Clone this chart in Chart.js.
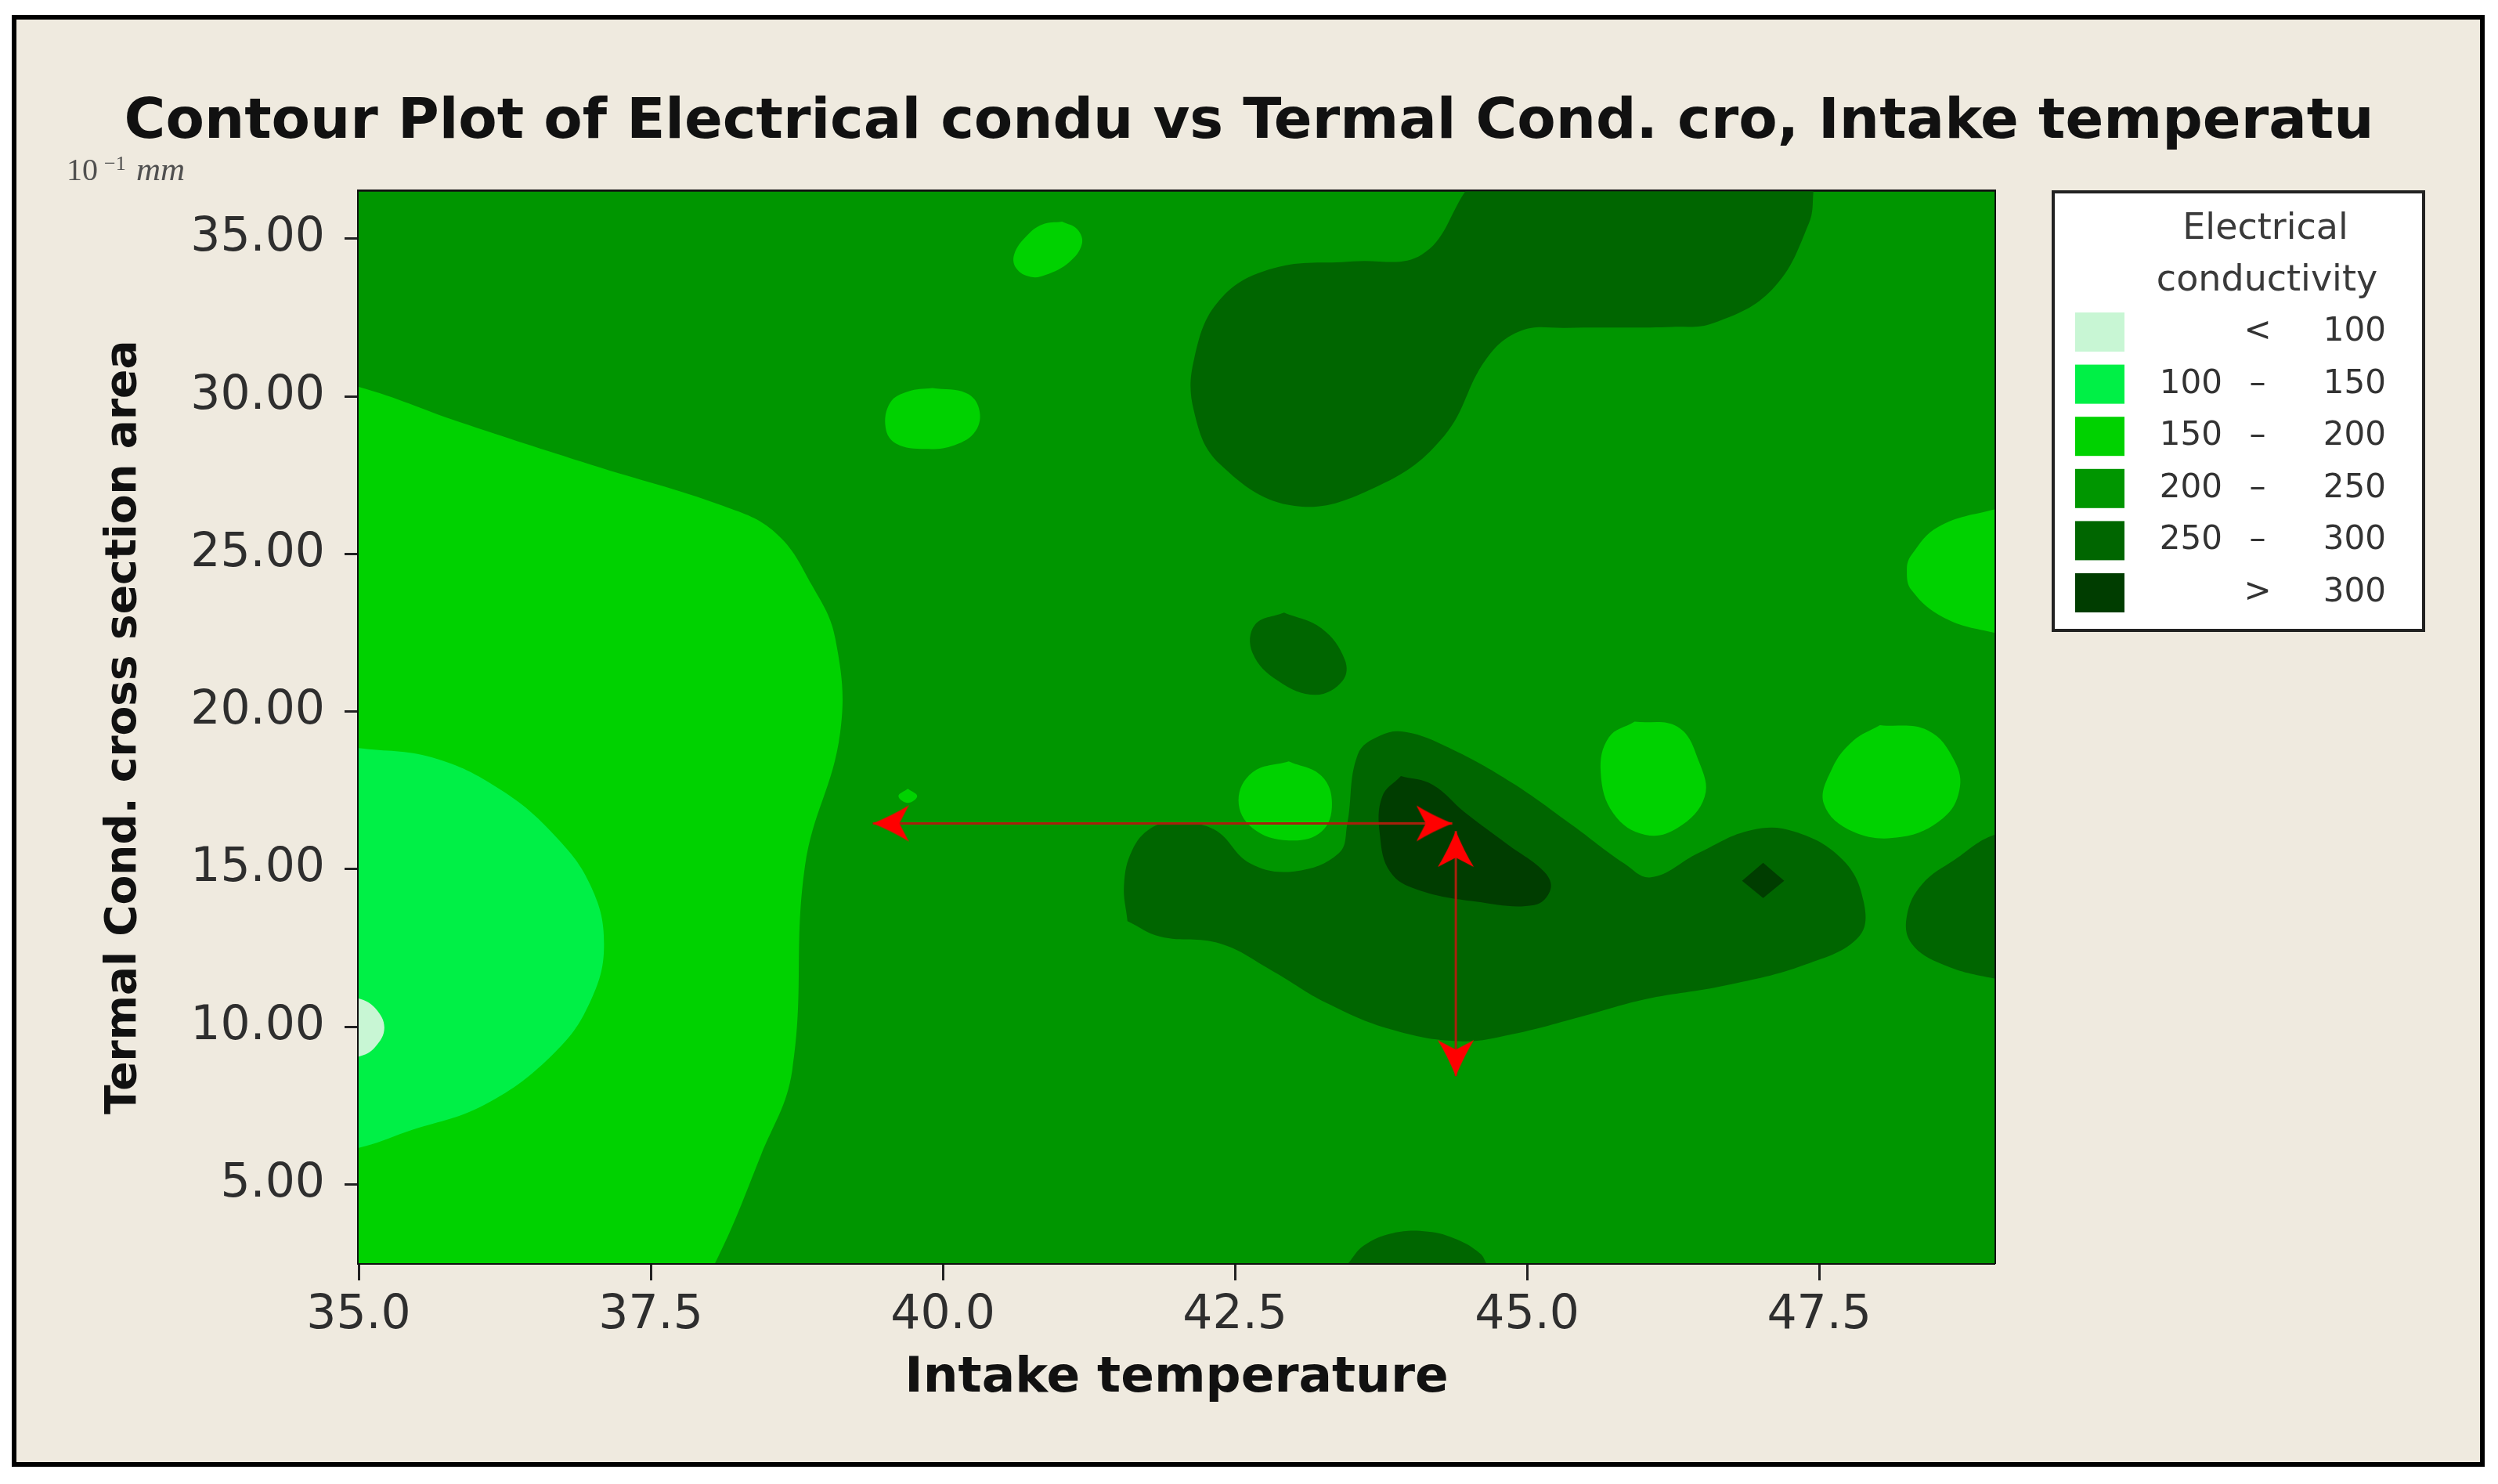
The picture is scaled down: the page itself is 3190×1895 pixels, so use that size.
<!DOCTYPE html>
<html>
<head>
<meta charset="utf-8">
<script src="https://cdn.jsdelivr.net/npm/chart.js@4.4.1/dist/chart.umd.min.js"></script>
<style>
html,body{margin:0;padding:0;background:#ffffff;}
#wrap{position:relative;width:3190px;height:1895px;}
</style>
</head>
<body>
<div id="wrap"><canvas id="c"></canvas></div>
<script>
// ---------------- text ----------------
const chartTitle = 'Contour Plot of Electrical condu vs Termal Cond. cro, Intake temperatu';
const xTitle = 'Intake temperature';
const yTitle = 'Termal Cond. cross section area';
const unitParts = ['10', '\u22121', 'mm'];
const legendTitle = ['Electrical', 'conductivity'];

// ---------------- axes ----------------
const xRange = [35, 49];
const yRange = [2.5, 36.5];
const xTickValues = [35, 37.5, 40, 42.5, 45, 47.5];
const xTickLabels = ['35.0', '37.5', '40.0', '42.5', '45.0', '47.5'];
const yTickValues = [5, 10, 15, 20, 25, 30, 35];
const yTickLabels = ['5.00', '10.00', '15.00', '20.00', '25.00', '30.00', '35.00'];

// ---------------- contour bands ----------------
const bandLow  = ['', '100', '150', '200', '250', ''];
const bandSign = ['<', '\u2013', '\u2013', '\u2013', '\u2013', '>'];
const bandHigh = ['100', '150', '200', '250', '300', '300'];
const bandColors = ['#c8f6d4', '#00f046', '#00d200', '#009600', '#006600', '#003d00'];

// ---------------- contour regions: [Intake temperature, cross section] boundary vertices ----------------
const domainBase = [[35, 2.5], [49, 2.5], [49, 36.5], [35, 36.5]];                       // 200-250
const regionLeft150 = [[34.5, 30.6], [35, 30.3], [35.86, 29.19], [36.99, 27.83], [38.12, 26.52], [38.57, 25.66],
  [38.88, 24.0], [39.08, 22.3], [39.12, 19.3], [38.82, 15.1], [38.71, 8.6], [38.44, 5.9], [38.05, 2.5],
  [37.85, 1.5], [34.5, 1.5]];
const regionLeft100 = [[34.5, 19.1], [35, 18.84], [35.63, 18.54], [36.21, 17.53], [36.68, 16.06], [36.99, 14.44],
  [37.10, 12.63], [36.99, 10.86], [36.68, 9.19], [36.08, 7.53], [35.41, 6.67], [35, 6.16], [34.5, 5.9]];
const regionLeftLow = [[34.6, 11.2], [35, 10.9], [35.14, 10.6], [35.22, 9.97], [35.14, 9.35], [35, 9.05], [34.6, 8.8]];
const blobTop150 = [[41.02, 35.54], [41.15, 35.3], [41.19, 34.83], [41.08, 34.25], [40.88, 33.85], [40.75, 33.79],
  [40.63, 34.05], [40.61, 34.5], [40.72, 35.1], [40.85, 35.45], [41.02, 35.54]];
const blobUpper150 = [[39.91, 30.26], [40.2, 30.1], [40.31, 29.6], [40.28, 28.9], [40.1, 28.45], [39.85, 28.33],
  [39.6, 28.5], [39.51, 29.0], [39.55, 29.8], [39.7, 30.15], [39.91, 30.26]];
const blobEdge150 = [[49.5, 26.8], [49, 26.41], [48.52, 25.86], [48.29, 24.97], [48.25, 24.5], [48.29, 23.85],
  [48.57, 22.97], [49, 22.5], [49.5, 22.2]];
const blobMid150 = [[42.96, 18.42], [43.24, 17.96], [43.33, 17.07], [43.24, 16.19], [42.96, 15.91], [42.65, 16.30],
  [42.53, 17.18], [42.65, 18.07], [42.96, 18.42]];
const blobRightA150 = [[45.92, 19.68], [46.29, 19.51], [46.47, 18.42], [46.52, 17.30], [46.29, 16.31], [46.01, 16.09],
  [45.74, 16.76], [45.63, 18.07], [45.70, 19.18], [45.92, 19.68]];
const blobRightB150 = [[48.02, 19.57], [48.43, 19.40], [48.66, 18.42], [48.70, 17.51], [48.56, 16.62], [48.20, 16.02],
  [47.79, 16.19], [47.54, 17.07], [47.61, 18.19], [47.79, 19.07], [48.02, 19.57]];
const speck150 = [[39.70, 17.55], [39.78, 17.32], [39.70, 17.1], [39.62, 17.32], [39.70, 17.55]];
const darkTop250 = [[44.6, 37.3], [44.47, 36.5], [44.10, 34.5], [43.51, 34.28], [42.83, 34.06], [42.37, 33.06],
  [42.15, 31.18], [42.15, 29.51], [42.37, 27.85], [43.01, 26.52], [43.74, 27.18], [44.29, 28.74], [44.65, 31.18],
  [44.95, 32.08], [45.33, 32.17], [46.24, 32.2], [46.6, 32.33], [47.1, 33.4], [47.41, 35.47], [47.45, 36.5],
  [47.45, 37.3]];
const darkSpot250 = [[42.92, 23.14], [43.24, 22.64], [43.44, 21.64], [43.42, 20.97], [43.19, 20.53], [42.87, 20.97],
  [42.65, 21.86], [42.67, 22.75], [42.92, 23.14]];
const darkBand250 = [[41.58, 13.35], [41.55, 14.5], [41.62, 15.6], [41.78, 16.3], [41.97, 16.46], [42.32, 16.26],
  [42.63, 15.18], [43.01, 14.93], [43.39, 15.51], [43.46, 16.41], [43.55, 18.63], [43.74, 19.23], [43.96, 19.35],
  [44.33, 18.85], [44.87, 17.74], [45.38, 16.41], [45.83, 15.18], [46.06, 14.74], [46.47, 15.52], [46.92, 16.24],
  [47.29, 16.19], [47.70, 15.30], [47.88, 13.97], [47.84, 12.86], [47.38, 11.97], [46.70, 11.31], [46.01, 10.87],
  [45.56, 10.42], [44.87, 9.76], [44.42, 9.54], [43.83, 9.92], [43.28, 10.76], [42.83, 11.75], [42.37, 12.64],
  [41.86, 12.86], [41.58, 13.35]];
const darkEdge250 = [[49.5, 16.4], [49, 16.09], [48.66, 15.30], [48.38, 14.52], [48.25, 13.52], [48.29, 12.64],
  [48.56, 11.97], [49, 11.53], [49.5, 11.3]];
const darkBottom250 = [[43.3, 1.8], [43.47, 2.5], [43.6, 3.05], [43.85, 3.45], [44.15, 3.5], [44.4, 3.25],
  [44.6, 2.8], [44.65, 2.5], [44.75, 1.8]];
const core300 = [[43.92, 17.95], [44.19, 17.68], [44.47, 16.79], [44.83, 15.79], [45.15, 14.90], [45.20, 14.35],
  [45.06, 13.86], [44.56, 13.97], [44.06, 14.35], [43.83, 14.90], [43.74, 16.09], [43.76, 17.30], [43.92, 17.95]];
const dot300 = [[47.02, 15.2], [47.2, 14.63], [47.02, 14.08], [46.84, 14.63]];

// ---------------- annotation arrows ----------------
const arrowHorizontal = [[39.40, 16.45], [44.36, 16.45]];
const arrowVertical = [[44.39, 16.21], [44.39, 8.43]];

// layers, bottom to top: [vertices, band, tension]
const contourLayers = [
  [domainBase, 3, 0],
  [regionLeft150, 2, 0.4],
  [regionLeft100, 1, 0.4],
  [regionLeftLow, 0, 0.4],
  [blobTop150, 2, 0.4],
  [blobUpper150, 2, 0.4],
  [blobEdge150, 2, 0.4],
  [blobMid150, 2, 0.4],
  [blobRightA150, 2, 0.4],
  [blobRightB150, 2, 0.4],
  [speck150, 2, 0.4],
  [darkTop250, 4, 0.4],
  [darkSpot250, 4, 0.4],
  [darkBand250, 4, 0.4],
  [darkEdge250, 4, 0.4],
  [darkBottom250, 4, 0.4],
  [core300, 5, 0.4],
  [dot300, 5, 0]
];

function makeArrowHead(len, half, notch, color) {
  const c = document.createElement('canvas');
  c.width = len * 2; c.height = len * 2;
  const g = c.getContext('2d');
  g.fillStyle = color;
  g.beginPath();
  g.moveTo(len, len);
  g.quadraticCurveTo(len * 0.45, len - half * 0.45, 0, len - half);
  g.lineTo(notch, len);
  g.lineTo(0, len + half);
  g.quadraticCurveTo(len * 0.45, len + half * 0.45, len, len);
  g.closePath();
  g.fill();
  return c;
}
const arrowHead = makeArrowHead(46, 23, 12, '#ff0000');

const toXY = pts => pts.map(p => ({x: p[0], y: p[1]}));

const datasets = contourLayers.map((L, i) => ({
  type: 'line',
  label: 'band' + L[1],
  data: toXY(L[0]),
  xAxisID: 'x', yAxisID: 'y',
  backgroundColor: bandColors[L[1]],
  borderWidth: 0,
  pointRadius: 0,
  fill: 'shape',
  tension: L[2],
  order: 100 - i
}));
[[arrowHorizontal, [180, 0]], [arrowVertical, [-90, 90]]].forEach(a => {
  datasets.push({
    type: 'line',
    label: 'arrow',
    data: toXY(a[0]),
    xAxisID: 'x', yAxisID: 'y',
    borderColor: '#a8200c',
    borderWidth: 3,
    fill: false,
    tension: 0,
    pointStyle: arrowHead,
    pointRadius: 6,
    pointRotation: a[1],
    order: 0
  });
});

// ---------------- plugins ----------------
const framePlugin = {
  id: 'frame',
  beforeDraw(chart) {
    const ctx = chart.ctx;
    ctx.save();
    ctx.fillStyle = '#ffffff';
    ctx.fillRect(0, 0, chart.width, chart.height);
    ctx.fillStyle = '#efeadf';
    ctx.fillRect(18, 22, 3152, 1848);
    ctx.lineWidth = 6;
    ctx.strokeStyle = '#000000';
    ctx.strokeRect(18, 22, 3152, 1848);
    // units note
    ctx.fillStyle = '#505050';
    ctx.textBaseline = 'alphabetic';
    ctx.textAlign = 'left';
    ctx.font = '40px "Liberation Serif"';
    ctx.fillText(unitParts[0], 85, 230);
    ctx.font = '26px "Liberation Serif"';
    ctx.fillText(unitParts[1], 133, 217);
    ctx.font = 'italic 43px "Liberation Serif"';
    ctx.fillText(unitParts[2], 174, 230);
    ctx.restore();
  }
};

const legendPlugin = {
  id: 'contourLegend',
  afterDraw(chart) {
    const ctx = chart.ctx;
    ctx.save();
    ctx.fillStyle = '#ffffff';
    ctx.fillRect(2622, 245, 473, 560);
    ctx.lineWidth = 4;
    ctx.strokeStyle = '#222222';
    ctx.strokeRect(2622, 245, 473, 560);
    ctx.fillStyle = '#3a3a3a';
    ctx.textAlign = 'center';
    ctx.textBaseline = 'alphabetic';
    ctx.font = '46px "DejaVu Sans"';
    ctx.fillText(legendTitle[0], 2893, 305);
    ctx.fillText(legendTitle[1], 2895, 371);
    ctx.font = '42px "DejaVu Sans"';
    ctx.textBaseline = 'middle';
    for (let i = 0; i < bandColors.length; i++) {
      const cy = 424 + i * 66.6;
      ctx.fillStyle = bandColors[i];
      ctx.fillRect(2650, cy - 25, 63, 50);
      ctx.fillStyle = '#333333';
      ctx.textAlign = 'right';
      ctx.fillText(bandLow[i], 2838, cy);
      ctx.fillText(bandHigh[i], 3047, cy);
      ctx.textAlign = 'center';
      ctx.fillText(bandSign[i], 2883, cy);
    }
    ctx.restore();
  }
};

Chart.defaults.font.family = '"DejaVu Sans"';

new Chart(document.getElementById('c'), {
  type: 'line',
  data: {datasets},
  options: {
    responsive: true,
    maintainAspectRatio: false,
    animation: false,
    events: [],
    layout: {padding: {left: 0, right: 0, top: 0, bottom: 0}},
    plugins: {
      legend: {display: false},
      tooltip: {enabled: false},
      title: {
        display: true,
        text: chartTitle,
        color: '#111111',
        font: {family: '"DejaVu Sans"', size: 72, weight: 'bold'},
        padding: {top: 114, bottom: 44}
      }
    },
    scales: {
      x: {
        type: 'linear', position: 'bottom', min: xRange[0], max: xRange[1],
        afterBuildTicks: s => { s.ticks = xTickValues.map(v => ({value: v})); },
        afterFit: s => { s.height = 282; },
        ticks: {
          callback: (v, i) => xTickLabels[i],
          color: '#2e2e2e', padding: 9, maxRotation: 0, autoSkip: false,
          font: {family: '"DejaVu Sans"', size: 60}
        },
        grid: {display: true, drawOnChartArea: false, drawTicks: true, tickLength: 22,
               tickColor: '#222222', tickWidth: 3},
        border: {display: true, color: '#111111', width: 4},
        title: {display: true, text: xTitle, color: '#111111',
                font: {family: '"DejaVu Sans"', size: 63, weight: 'bold'},
                padding: {top: 0, bottom: 97}}
      },
      y: {
        type: 'linear', position: 'left', min: yRange[0], max: yRange[1],
        afterBuildTicks: s => { s.ticks = yTickValues.map(v => ({value: v})); },
        afterFit: s => { s.width = 458; },
        ticks: {
          callback: (v, i) => yTickLabels[i],
          color: '#2e2e2e', padding: 25, autoSkip: false,
          font: {family: '"DejaVu Sans"', size: 60}
        },
        grid: {display: true, drawOnChartArea: false, drawTicks: true, tickLength: 18,
               tickColor: '#222222', tickWidth: 3},
        border: {display: true, color: '#111111', width: 4},
        title: {display: true, text: yTitle, color: '#111111',
                font: {family: '"DejaVu Sans"', size: 55, weight: 'bold'},
                padding: {top: 126, bottom: 0}}
      },
      x2: {
        type: 'linear', position: 'top', min: xRange[0], max: xRange[1],
        afterFit: s => { s.height = 0; },
        ticks: {display: false}, grid: {display: false},
        border: {display: true, color: '#111111', width: 4}
      },
      y2: {
        type: 'linear', position: 'right', min: yRange[0], max: yRange[1],
        afterFit: s => { s.width = 643; },
        ticks: {display: false}, grid: {display: false},
        border: {display: true, color: '#111111', width: 4}
      }
    }
  },
  plugins: [framePlugin, legendPlugin]
});
</script>
</body>
</html>
